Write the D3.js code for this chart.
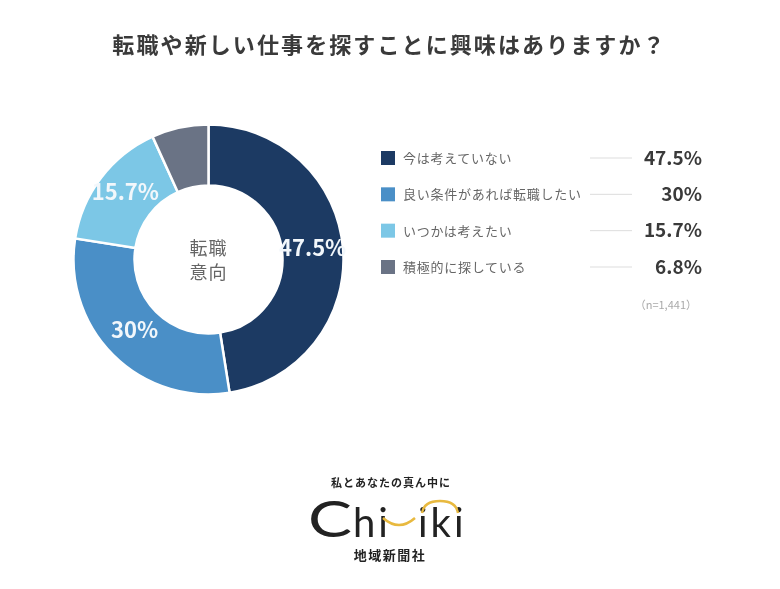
<!DOCTYPE html>
<html lang="ja">
<head>
<meta charset="utf-8">
<script src="https://cdn.jsdelivr.net/npm/d3@7"></script>
<style>
  html, body { margin: 0; padding: 0; background: #fff; }
  svg { display: block; filter: blur(0.7px); font-family: "Noto Sans CJK JP", "Noto Sans", sans-serif; }
</style>
</head>
<body>
<svg id="chart" width="780" height="589"></svg>
<script>
const categories = ["今は考えていない", "良い条件があれば転職したい", "いつかは考えたい", "積極的に探している"];
const values = [47.5, 30, 15.7, 6.8];
const valueLabels = ["47.5%", "30%", "15.7%", "6.8%"];
const colors = ["#1c3a63", "#4a8fc7", "#7cc7e6", "#6a7385"];

const svg = d3.select("#chart");

// Title
svg.append("text")
    .attr("x", 389.5)
    .attr("y", 53)
    .attr("text-anchor", "middle")
    .attr("font-size", 22)
    .attr("font-weight", 700)
    .attr("letter-spacing", 2.1)
    .attr("fill", "#3a3a3a")
    .text("転職や新しい仕事を探すことに興味はありますか？");

// Donut
const cx = 208.5, cy = 259.5, outer = 135, inner = 74;
const pie = d3.pie().sort(null).value(d => d);
const arc = d3.arc().innerRadius(inner).outerRadius(outer);
const donut = svg.append("g").attr("transform", `translate(${cx},${cy})`);

donut.selectAll("path")
    .data(pie(values))
    .join("path")
    .attr("d", arc)
    .attr("fill", (d, i) => colors[i])
    .attr("stroke", "#fff")
    .attr("stroke-width", 2.5);

// the smallest slice has no label in the original
donut.selectAll("text.pct")
    .data(pie(values).slice(0, 3))
    .join("text")
    .attr("class", "pct")
    .attr("x", d => arc.centroid(d)[0])
    .attr("y", d => arc.centroid(d)[1] - 3.5)
    .attr("dy", "0.35em")
    .attr("text-anchor", "middle")
    .attr("font-size", 22)
    .attr("font-weight", 700)
    .attr("fill", "#f2f7fb")
    .text((d, i) => valueLabels[i]);

donut.selectAll("text.center")
    .data(["転職", "意向"])
    .join("text")
    .attr("class", "center")
    .attr("x", 0)
    .attr("y", (d, i) => i * 24 - 5)
    .attr("text-anchor", "middle")
    .attr("font-size", 18)
    .attr("letter-spacing", 1)
    .attr("fill", "#666")
    .text(d => d);

// Legend rows
const rowY = d3.scalePoint().domain(categories).range([158, 267]);
const rows = svg.selectAll("g.row")
    .data(categories)
    .join("g")
    .attr("class", "row")
    .attr("transform", d => `translate(0,${rowY(d)})`);

rows.append("rect")
    .attr("x", 381)
    .attr("y", -7)
    .attr("width", 14)
    .attr("height", 14)
    .attr("fill", (d, i) => colors[i]);

rows.append("text")
    .attr("x", 403)
    .attr("dy", "0.38em")
    .attr("font-size", 13)
    .attr("letter-spacing", 0.75)
    .attr("fill", "#666")
    .text(d => d);

rows.append("line")
    .attr("x1", 590)
    .attr("x2", 632)
    .attr("stroke", "#ddd");

rows.append("text")
    .attr("x", 702)
    .attr("dy", "0.35em")
    .attr("text-anchor", "end")
    .attr("font-size", 19)
    .attr("font-weight", 700)
    .attr("fill", "#3a3a3a")
    .text((d, i) => valueLabels[i]);

svg.append("text")
    .attr("x", 697)
    .attr("y", 309)
    .attr("text-anchor", "end")
    .attr("font-size", 11)
    .attr("fill", "#aaa")
    .text("（n=1,441）");

// Logo
const logo = svg.append("g").attr("fill", "#222");
logo.append("text")
    .attr("x", 391).attr("y", 487)
    .attr("text-anchor", "middle")
    .attr("font-size", 11).attr("font-weight", 700)
    .attr("letter-spacing", 1)
    .text("私とあなたの真ん中に");
logo.append("text")
    .attr("x", 308).attr("y", 537)
    .attr("font-family", "Lato, sans-serif")
    .attr("font-size", 51)
    .attr("textLength", 44)
    .attr("lengthAdjust", "spacingAndGlyphs")
    .text("C");
logo.append("text")
    .attr("x", 353).attr("y", 537)
    .attr("font-family", "Lato, sans-serif")
    .attr("font-size", 40)
    .attr("letter-spacing", 3)
    .text("hi");
logo.append("text")
    .attr("x", 418).attr("y", 537)
    .attr("font-family", "Lato, sans-serif")
    .attr("font-size", 40)
    .attr("letter-spacing", 3)
    .text("iki");
logo.append("path")
    .attr("d", "M383,518 Q399,532 415,518")
    .attr("fill", "none").attr("stroke", "#e8b93f").attr("stroke-width", 2.5);
logo.append("path")
    .attr("d", "M422,513 Q424,501 440,501 Q456,501 458,513")
    .attr("fill", "none").attr("stroke", "#e8b93f").attr("stroke-width", 2.5);
logo.append("text")
    .attr("x", 390).attr("y", 560)
    .attr("text-anchor", "middle")
    .attr("font-size", 13).attr("font-weight", 700)
    .attr("letter-spacing", 1.5)
    .text("地域新聞社");
</script>
</body>
</html>
